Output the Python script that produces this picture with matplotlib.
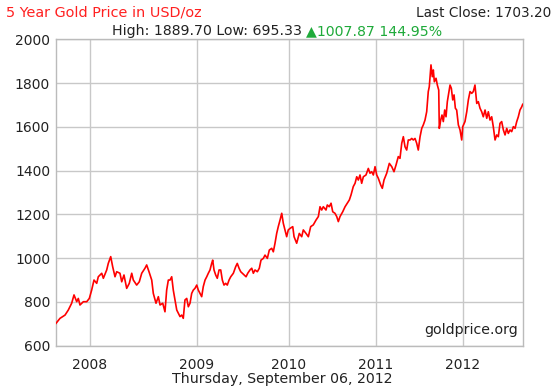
import matplotlib
matplotlib.use("Agg")
import matplotlib.pyplot as plt

# Decimal-year positions and gold prices (USD/oz)
years = [
    2007.683, 2007.726, 2007.780, 2007.815, 2007.851, 2007.876, 2007.905, 2007.922, 2007.940, 2007.976,
    2008.012, 2008.040, 2008.065, 2008.090, 2008.119, 2008.136, 2008.173, 2008.190, 2008.226, 2008.243,
    2008.269, 2008.290, 2008.315, 2008.333, 2008.368, 2008.387, 2008.411, 2008.440, 2008.468, 2008.494,
    2008.511, 2008.547, 2008.575, 2008.601, 2008.636, 2008.654, 2008.679, 2008.708, 2008.725, 2008.754,
    2008.779, 2008.797, 2008.826, 2008.850, 2008.868, 2008.886,
    2008.904, 2008.922, 2008.939, 2008.957, 2008.976, 2008.993, 2009.011, 2009.029, 2009.046, 2009.064,
    2009.083, 2009.100, 2009.118, 2009.136, 2009.153, 2009.171, 2009.190, 2009.207, 2009.225, 2009.243,
    2009.260, 2009.279, 2009.297, 2009.314, 2009.332, 2009.350, 2009.361, 2009.375, 2009.393, 2009.410,
    2009.429, 2009.447, 2009.464, 2009.482, 2009.500, 2009.517, 2009.536, 2009.554, 2009.582, 2009.607,
    2009.624, 2009.643, 2009.661, 2009.678, 2009.696, 2009.718, 2009.736, 2009.760, 2009.779, 2009.796,
    2009.814, 2009.839, 2009.860, 2009.878, 2009.903, 2009.921, 2009.946, 2009.967, 2009.993, 2010.010,
    2010.028, 2010.046, 2010.063, 2010.082, 2010.100, 2010.117, 2010.135, 2010.153, 2010.170,
    2010.189, 2010.218, 2010.232, 2010.260, 2010.288, 2010.314, 2010.331, 2010.360, 2010.385, 2010.410,
    2010.438, 2010.467, 2010.492, 2010.510, 2010.528, 2010.545, 2010.574, 2010.588, 2010.609, 2010.628,
    2010.646, 2010.670, 2010.689, 2010.706, 2010.724, 2010.753, 2010.778, 2010.802, 2010.824, 2010.842,
    2010.866, 2010.885, 2010.903, 2010.920, 2010.938, 2010.956, 2010.974, 2011.002, 2011.027, 2011.045,
    2011.063, 2011.081, 2011.099, 2011.117, 2011.134, 2011.160, 2011.177, 2011.195, 2011.224, 2011.252,
    2011.278, 2011.302, 2011.324, 2011.348, 2011.366, 2011.385, 2011.402, 2011.420, 2011.438, 2011.455,
    2011.474, 2011.492, 2011.509, 2011.527, 2011.545, 2011.562, 2011.581, 2011.599, 2011.616, 2011.634,
    2011.652, 2011.669, 2011.680, 2011.698, 2011.712, 2011.723, 2011.734, 2011.752, 2011.766, 2011.781,
    2011.787, 2011.802, 2011.816, 2011.830, 2011.845, 2011.859, 2011.873, 2011.888, 2011.902, 2011.916,
    2011.931, 2011.945, 2011.959, 2011.973, 2011.991, 2012.009, 2012.027, 2012.038, 2012.062, 2012.081,
    2012.098, 2012.116, 2012.134, 2012.151, 2012.169, 2012.188, 2012.205, 2012.223, 2012.241, 2012.258,
    2012.277, 2012.295, 2012.312, 2012.330, 2012.348, 2012.365, 2012.384, 2012.402, 2012.419, 2012.437,
    2012.455, 2012.473, 2012.491, 2012.509, 2012.526, 2012.544, 2012.562, 2012.580, 2012.598, 2012.616,
    2012.633, 2012.651, 2012.670, 2012.680,
]
prices = [
    702, 725, 740, 763, 794, 832, 801, 816, 786, 801,
    801, 816, 854, 900, 885, 915, 931, 908, 946, 976,
    1007, 961, 915, 938, 931, 892, 923, 862, 885, 931,
    900, 877, 892, 931, 954, 969, 938, 900, 839, 794,
    824, 786, 794, 755, 854, 900,
    900, 915, 854, 809, 763, 748, 733, 740, 725, 809,
    816, 778, 794, 839, 854, 862, 877, 854, 839, 824,
    870, 900, 915, 931, 946, 976, 991, 946, 923, 908,
    946, 946, 900, 877, 885, 877, 900, 915, 931, 961,
    976, 954, 938, 931, 923, 915, 931, 946, 954, 931,
    946, 938, 954, 991, 999, 1014, 999, 1037, 1045, 1029,
    1068, 1113, 1144, 1174, 1205, 1159, 1129, 1098, 1129,
    1136, 1144, 1098, 1068, 1113, 1098, 1129, 1113, 1098, 1144,
    1152, 1174, 1190, 1235, 1220, 1235, 1220, 1243, 1235, 1251,
    1212, 1205, 1190, 1167, 1190, 1212, 1235, 1251, 1266, 1289,
    1327, 1342, 1372, 1357, 1380, 1342, 1372, 1380, 1410, 1388,
    1395, 1380, 1418, 1380, 1365, 1334, 1319, 1357, 1388, 1433,
    1418, 1395, 1426, 1464, 1456, 1525, 1555, 1509, 1494, 1540,
    1540, 1547, 1540, 1547, 1525, 1494, 1555, 1593, 1609, 1631,
    1669, 1761, 1784, 1883, 1829, 1860, 1806, 1822, 1791, 1768,
    1593, 1631, 1654, 1624, 1677, 1646, 1715, 1753, 1791, 1776,
    1723, 1746, 1685, 1677, 1609, 1586, 1540, 1601, 1624, 1669,
    1723, 1761, 1753, 1761, 1791, 1707, 1715, 1685, 1669, 1646,
    1677, 1639, 1669, 1631, 1646, 1601, 1540, 1563, 1555, 1616,
    1624, 1586, 1563, 1593, 1570, 1586, 1578, 1601, 1593, 1624,
    1646, 1677, 1692, 1703,
]

year_tick_pos = [2008.047, 2009.193, 2010.178, 2011.109, 2012.041]
year_tick_labels = ["2008", "2009", "2010", "2011", "2012"]
price_ticks = [600, 800, 1000, 1200, 1400, 1600, 1800, 2000]

title = "5 Year Gold Price in USD/oz"
last_close = "Last Close: 1703.20"
high_low = "High: 1889.70 Low: 695.33 "
change = "\u25B21007.87 144.95%"
date_label = "Thursday, September 06, 2012"
source = "goldprice.org"

W, H = 557, 386
fig = plt.figure(figsize=(W / 100, H / 100), dpi=100)
fig.patch.set_facecolor("white")
ax = fig.add_axes([55.7 / W, 1 - 345.7 / H, 467 / W, 306.4 / H])

ax.plot(years, prices, color="#ff0000", lw=1.2, zorder=3)
ax.set_xlim(2007.68, 2012.68)
ax.set_ylim(600, 2000)
ax.set_xticks(year_tick_pos)
ax.set_xticklabels(year_tick_labels)
ax.set_yticks(price_ticks)
ax.grid(True, color="#c8c8c8", lw=1.0, zorder=0)
ax.tick_params(length=0, labelsize=10, colors="#222222")
ax.tick_params(axis="y", pad=4)
ax.tick_params(axis="x", pad=9)
for s in ax.spines.values():
    s.set_color("#bbbbbb")
    s.set_linewidth(1.0)

fs = 10.2
fig.text(6 / W, 1 - 12.7 / H, title, color="#ff2020", fontsize=10.4, ha="left", va="center")
fig.text(551 / W, 1 - 12.7 / H, last_close, color="#222222", fontsize=9.8, ha="right", va="center")
t1 = fig.text(112 / W, 1 - 31 / H, high_low, color="#222222", fontsize=fs, ha="left", va="center")
ax.annotate(change, xy=(1, 0), xycoords=t1, color="#1faa3a", fontsize=fs, ha="left", va="bottom")
fig.text(282 / W, 1 - 379 / H, date_label, color="#222222", fontsize=fs, ha="center", va="center")
ax.text(0.99, 0.03, source, transform=ax.transAxes, color="#222222", fontsize=fs, ha="right", va="bottom")

fig.savefig("out.png", dpi=100, facecolor="white")
